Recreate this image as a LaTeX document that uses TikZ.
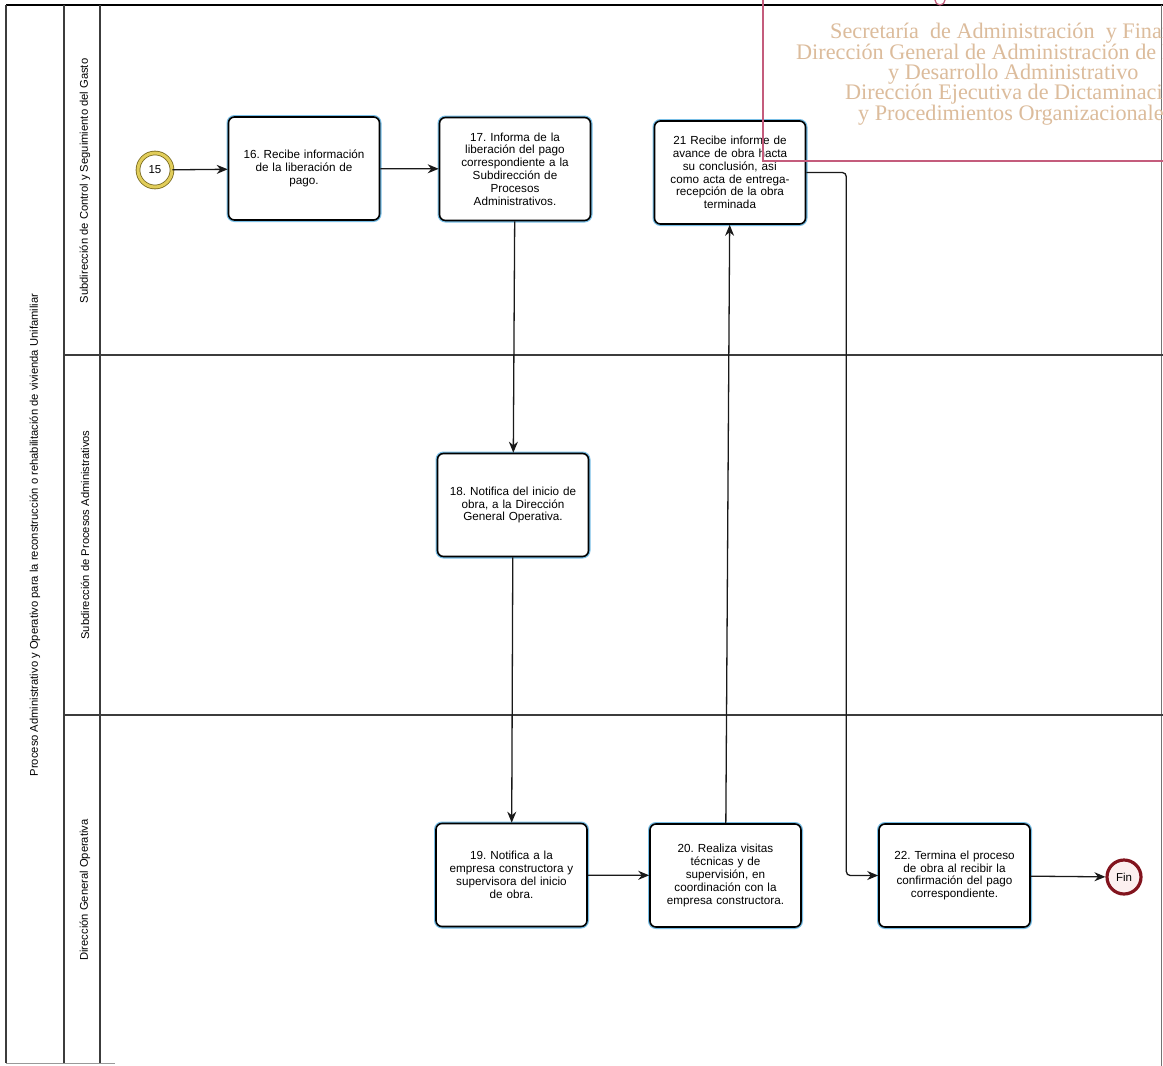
\documentclass[tikz,border=0pt]{standalone}
\usepackage{fontspec}
\setmainfont{Liberation Sans}
\newfontfamily\stampfont{Liberation Serif}
\usetikzlibrary{arrows.meta}
\frenchspacing

\definecolor{laneline}{RGB}{60,60,60}
\definecolor{boxglow}{RGB}{120,190,230}
\definecolor{startdark}{RGB}{120,105,30}
\definecolor{startgold}{RGB}{225,205,90}
\definecolor{finred}{RGB}{130,20,30}
\definecolor{finfill}{RGB}{252,240,240}
\definecolor{stampline}{RGB}{196,92,124}
\definecolor{stamptext}{RGB}{220,188,156}

\newcommand{\boxfont}{\fontsize{11.7}{12.8}\selectfont}
\newcommand{\lanefont}{\fontsize{11.2}{12}\selectfont}

\tikzset{
  lane/.style={draw=laneline, line width=1.3pt},
  task/.style={draw=black, line width=1.6pt, rounded corners=6pt, fill=white,
    minimum width=151pt, minimum height=103pt, text width=138pt,
    align=center, font=\boxfont, inner sep=0pt,
    preaction={draw=boxglow, line width=4pt}},
  flow/.style={draw=black!90, line width=1.3pt, -{Stealth[length=11pt,width=9pt]}},
  lanelabel/.style={rotate=90, font=\lanefont, inner sep=0pt},
  stampline/.style={draw=stampline, line width=1.3pt},
  stamptxt/.style={anchor=base west, text=stamptext, inner sep=0pt,
    font=\stampfont\fontsize{22.2}{22}\selectfont}
}

\begin{document}
\begin{tikzpicture}[x=1pt,y=-1pt]
\useasboundingbox (0,0) rectangle (1163,1066);
\clip (0,0) rectangle (1163,1066);
\fill[white] (0,0) rectangle (1163,1066);

% pool frame and lanes
\draw[draw=black, line width=2pt] (6,4.5) -- (1163,4.5);
\draw[lane] (6,4.5) -- (6,1063);
\draw[lane] (64,4.5) -- (64,1063);
\draw[lane] (100,4.5) -- (100,1063);
\draw[draw=black!55, line width=1pt] (1161,4.5) -- (1161,1066);
\draw[lane] (64,355) -- (1163,355);
\draw[lane] (64,715) -- (1163,715);
\draw[draw=black!40, line width=1pt] (6,1063) -- (115,1063);

% pool and lane titles
\node[lanelabel] (pool) at (35,535) {Proceso Administrativo y Operativo para la reconstrucción o rehabilitación de vivienda Unifamiliar};
\node[lanelabel] (lane1) at (85,181) {Subdirección de Control y Seguimiento del Gasto};
\node[lanelabel] (lane2) at (85,535) {Subdirección de Procesos Administrativos};
\node[lanelabel] (lane3) at (85,890) {Dirección General Operativa};

% events
\node[circle, minimum size=34pt, inner sep=0pt, fill=white,
      draw=startdark, line width=0.8pt, double=startgold, double distance=3pt,
      font=\fontsize{11.5}{12}\selectfont] (s15) at (155,170) {15};
\node[circle, minimum size=34pt, inner sep=0pt, fill=finfill,
      draw=finred, line width=3.2pt,
      font=\fontsize{11.5}{12}\selectfont] (fin) at (1124,877) {Fin};

% tasks
\node[task] (n16) at (304,168.5) {16. Recibe información\\de la liberación de\\pago.};
\node[task] (n17) at (515,169) {17. Informa de la\\liberación del pago\\correspondiente a la\\Subdirección de\\Procesos\\Administrativos.};
\node[task] (n21) at (730,172.5) {21 Recibe informe de\\avance de obra hacta\\su conclusión, así\\como acta de entrega-\\recepción de la obra\\terminada};
\node[task] (n18) at (513,505) {18. Notifica del inicio de\\obra, a la Dirección\\General Operativa.};
\node[task] (n19) at (511.5,875) {19. Notifica a la\\empresa constructora y\\supervisora del inicio\\de obra.};
\node[task] (n20) at (725.5,875.5) {20. Realiza visitas\\técnicas y de\\supervisión, en\\coordinación con la\\empresa constructora.};
\node[task] (n22) at (954.5,875.5) {22. Termina el proceso\\de obra al recibir la\\confirmación del pago\\correspondiente.};

% sequence flows
\draw[flow] (s15) -- (n16);
\draw[flow] (n16) -- (n17);
\draw[flow] (n17) -- (n18);
\draw[flow] (n18) -- (n19);
\draw[flow] (n19) -- (n20);
\draw[flow] (n20) -- (n21);
\draw[flow, rounded corners=4pt] (n21.east) -- ++(40,0) |- (n22.west);
\draw[flow] (n22) -- (fin);

% office stamp
\draw[stampline] (763,-2) -- (763,161) -- (1165,161);
\draw[stampline, line width=1.2pt] (940,0) circle (5);
\node[stamptxt] (st1) at (830,38.5) {Secretaría\ \ de Administración\ \ y Finanzas};
\node[stamptxt] (st2) at (796,59) {Dirección General de Administración de Personal};
\node[stamptxt] (st3) at (888,79) {y Desarrollo Administrativo};
\node[stamptxt] (st4) at (845,99.5) {Dirección Ejecutiva de Dictaminación};
\node[stamptxt] (st5) at (858,120) {y Procedimientos Organizacionales};
\end{tikzpicture}
\end{document}
